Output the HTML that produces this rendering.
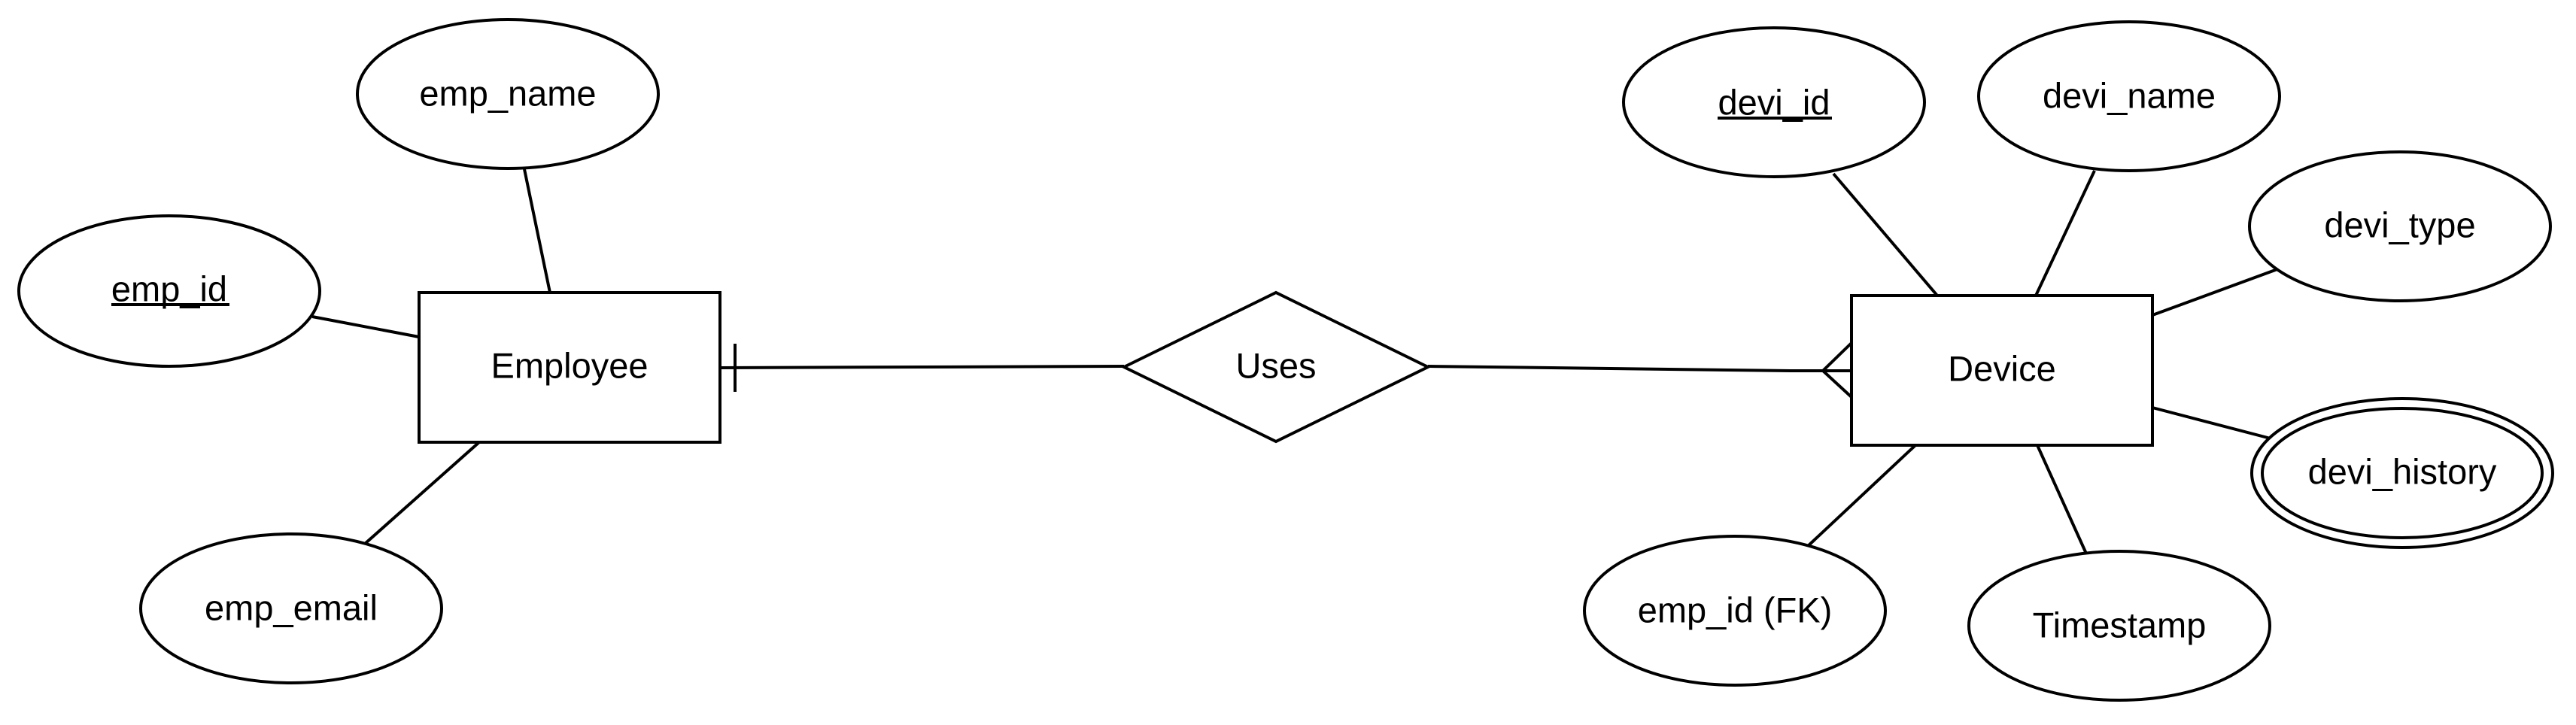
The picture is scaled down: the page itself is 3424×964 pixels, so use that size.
<!DOCTYPE html>
<html><head><meta charset="utf-8"><style>
html,body{margin:0;padding:0;background:#fff;}
svg{display:block;}
text{font-family:"Liberation Sans",Arial,sans-serif;font-size:47px;fill:#000;text-anchor:middle;dominant-baseline:central;}
</style></head><body>
<svg width="3424" height="964" viewBox="0 0 3424 964" xmlns="http://www.w3.org/2000/svg">
<g stroke="#000" stroke-width="4" fill="none">
<line x1="697" y1="225" x2="731" y2="389"/>
<line x1="415" y1="421" x2="557" y2="448"/>
<line x1="638" y1="587" x2="485" y2="723"/>
<line x1="2437" y1="231" x2="2575" y2="393"/>
<line x1="2784" y1="227" x2="2706" y2="393"/>
<line x1="3027" y1="358" x2="2861" y2="419"/>
<line x1="2861" y1="542" x2="3018" y2="583"/>
<line x1="2546" y1="592" x2="2402" y2="727"/>
<line x1="2708" y1="592" x2="2773" y2="736"/>
<line x1="956" y1="489" x2="1494" y2="487"/>
<line x1="977" y1="457" x2="977" y2="521"/>
<polyline points="1898,487 2380,493 2461,493"/>
<polyline points="2461,456 2423,493 2461,528"/>
<rect x="557" y="389" width="400" height="199" fill="#fff"/>
<rect x="2461" y="393" width="400" height="199" fill="#fff"/>
<polygon points="1494,488 1696,389 1898,488 1696,587" fill="#fff"/>
<ellipse cx="675" cy="125" rx="200" ry="99" fill="#fff"/>
<ellipse cx="225" cy="387" rx="200" ry="100" fill="#fff"/>
<ellipse cx="387" cy="809" rx="200" ry="99" fill="#fff"/>
<ellipse cx="2358" cy="136" rx="200" ry="99" fill="#fff"/>
<ellipse cx="2830" cy="128" rx="200" ry="99" fill="#fff"/>
<ellipse cx="3190" cy="301" rx="200" ry="99" fill="#fff"/>
<ellipse cx="3193" cy="629" rx="200" ry="99" fill="#fff"/>
<ellipse cx="3193" cy="629" rx="186" ry="86"/>
<ellipse cx="2306" cy="812" rx="200" ry="99" fill="#fff"/>
<ellipse cx="2817" cy="832" rx="200" ry="99" fill="#fff"/>
<line x1="148" y1="405" x2="305" y2="405"/>
<line x1="2283" y1="157" x2="2435" y2="157"/>
</g>
<text x="757" y="486">Employee</text>
<text x="2661" y="490">Device</text>
<text x="1696" y="486">Uses</text>
<text x="675" y="124">emp_name</text>
<text x="225" y="384">emp_id</text>
<text x="387" y="808">emp_email</text>
<text x="2358" y="136">devi_id</text>
<text x="2830" y="127">devi_name</text>
<text x="3190" y="299">devi_type</text>
<text x="3193" y="627">devi_history</text>
<text x="2306" y="811">emp_id (FK)</text>
<text x="2817" y="831">Timestamp</text>
</svg>
</body></html>
